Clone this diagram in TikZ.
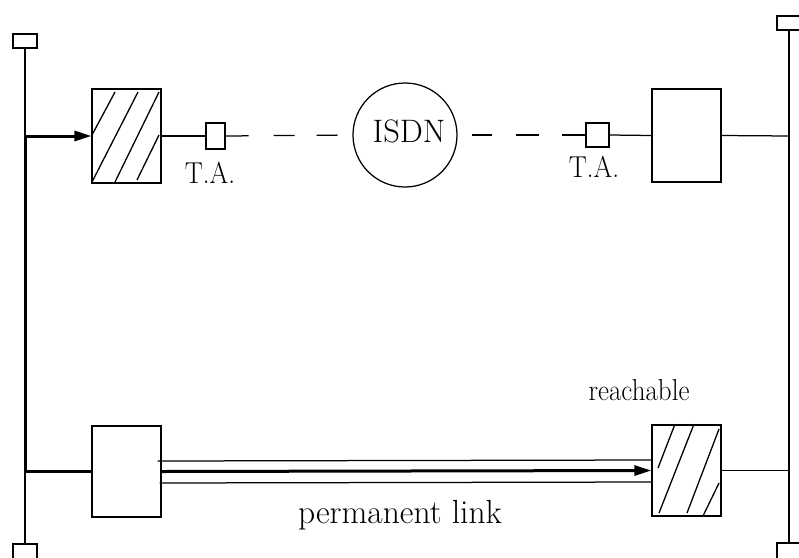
\documentclass[tikz,border=0pt]{standalone}
\usetikzlibrary{arrows.meta}
\begin{document}
\begin{tikzpicture}[x=1pt,y=-1pt,
  thin line/.style={line width=1.25pt},
  thick line/.style={line width=3pt},
  unit/.style={draw,thin line,inner sep=0pt,minimum width=69pt},
  adapter/.style={draw,thin line,inner sep=0pt},
  endbox/.style={draw,thin line,inner sep=0pt,minimum width=24pt},
  hatch/.style={line width=1.3pt},
  tip/.style={-{Triangle[length=17pt,width=10pt]}},
  label/.style={inner sep=0pt,anchor=base},
]
\useasboundingbox (0,0) rectangle (799,557);

% terminal boxes at both ends of the two vertical buses
\node[endbox,minimum height=14pt] (eTL) at (25,41) {};
\node[endbox,minimum height=16pt] (eBL) at (25,552) {};
\node[endbox,minimum height=14pt] (eTR) at (789,23) {};
\node[endbox,minimum height=16pt] (eBR) at (789,551) {};

% the four stations
\node[unit,minimum height=94pt] (hA) at (126.5,136) {};
\node[unit,minimum height=93pt] (rB) at (686.5,135.5) {};
\node[unit,minimum height=91pt] (lC) at (126.5,471.5) {};
\node[unit,minimum height=91pt] (rD) at (686.5,470.5) {};

% terminal adapters and the ISDN cloud
\node[adapter,minimum width=19pt,minimum height=26pt] (ta1) at (215.5,136) {};
\node[adapter,minimum width=23pt,minimum height=24pt] (ta2) at (597.5,135) {};
\node[draw,thin line,circle,inner sep=0pt,minimum size=104pt] (isdn) at (405,135) {};
\node[label,font=\fontsize{32.5}{36}\selectfont] (lisdn) at (409,142) {ISDN};

% junction points on the buses
\coordinate (jT) at (25,136);
\coordinate (jB) at (25,471.5);
\coordinate (kT) at (789,136);
\coordinate (kB) at (789,470.5);

% left bus
\draw[thin line] (eTL.south) -- (jT);
\draw[thick line] (jT) -- (jB);
\draw[thin line] (jB) -- (eBL.north);
\draw[thick line,tip] (jT) -- (hA.west);
\draw[thick line] (jB) -- (lC.west);

% right bus
\draw[thin line] (eTR.south) -- (eBR.north);
\draw[thin line] (rB.east) -- (kT);
\draw[thin line] (rD.east) -- (kB);

% dial-up path through ISDN
\draw[thin line] (hA.east) -- (ta1.west);
\draw[thin line,dash pattern=on 23pt off 25pt on 21pt off 22pt on 21pt off 40pt]
  (ta1.east) -- (isdn.west);
\draw[thin line,dash pattern=on 23pt off 23pt on 23pt off 24pt on 20pt off 30pt]
  (ta2.west) -- (isdn.east);
\draw[thin line] (ta2.east) -- (rB.west);

% permanent link
\draw[thin line] ([xshift=-4pt,yshift=10.5pt]lC.east) -- ([yshift=10.5pt]rD.west);
\draw[thin line] ([xshift=-2pt,yshift=-11.5pt]lC.east) -- ([yshift=-11.5pt]rD.west);
\draw[thick line,tip] (lC.east) -- (rD.west);

% hatching of the active stations
\draw[hatch] (92,135) -- (115,92)
             (92,182) -- (138,92)
             (115,182) -- (159,92)
             (137,180) -- (159,135);
\draw[hatch] (658,468) -- (675,424)
             (659,513) -- (694,424)
             (687,513) -- (719,429)
             (703,516) -- (719,483);

% labels
\node[label,font=\fontsize{27}{30}\selectfont] (lta1) at (210,183) {\scalebox{1}[1.12]{T.A.}};
\node[label,font=\fontsize{27}{30}\selectfont] (lta2) at (594,177) {\scalebox{1}[1.12]{T.A.}};
\node[label,font=\fontsize{27}{30}\selectfont] (lreach) at (639,400) {\scalebox{1}[1.12]{reachable}};
\node[label,font=\fontsize{33.5}{36}\selectfont] (llink) at (400,523) {permanent link};
\end{tikzpicture}
\end{document}
